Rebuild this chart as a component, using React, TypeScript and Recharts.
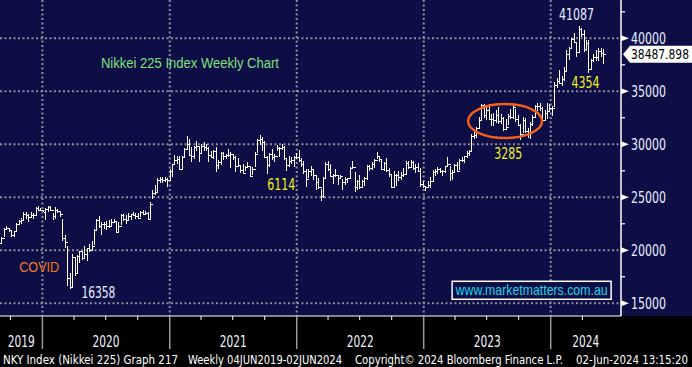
import React from "react";
import { ComposedChart, Bar, XAxis, YAxis, CartesianGrid, ReferenceDot } from "recharts";

// weekly bars, Friday week-ending, first bar = 30 Aug 2019
const firstWeek = "2019-08-30";
const firstOpen = 20480;

// [high, low, close] per week
const weeks2019 = [
  [20760, 20170, 20704], [21250, 20600, 21199], [22020, 21300, 21988], [22250, 21960, 22079], [22100, 21800, 21879],
  [21900, 21280, 21410], [21810, 21300, 21798], [22520, 21800, 22492], [22830, 22480, 22799], [22980, 22570, 22851],
  [23590, 22880, 23391], [23520, 23000, 23303], [23420, 22730, 23113], [23600, 23200, 23294], [23460, 23020, 23354],
  [24080, 23310, 24023], [24090, 23740, 23817], [23940, 23760, 23837],
];
const weeks2020 = [
  [23800, 23620, 23657], [23900, 22950, 23850], [24120, 23700, 24041], [24120, 23740, 23827], [23500, 22890, 23205],
  [23990, 22970, 23828], [23880, 23580, 23688], [23660, 23230, 23387], [22880, 20920, 21143], [21400, 20280, 20750],
  [20350, 16690, 17431], [17800, 16358, 16553], [19560, 16600, 19389], [19300, 17650, 17820], [19550, 17900, 19498],
  [19930, 18860, 19897], [19920, 19100, 19262], [20370, 19300, 19619], [20180, 19050, 20179], [20500, 19900, 20037],
  [20800, 20040, 20388], [21960, 20580, 21878], [22920, 21900, 22863], [23180, 22140, 22305], [22600, 21530, 22478],
  [22630, 22080, 22512], [22690, 21930, 22306], [22790, 22180, 22291], [22890, 22250, 22696], [22900, 22640, 22751],
  [22760, 21700, 21710], [22600, 21760, 22329], [23340, 22410, 23289], [23340, 22810, 22920], [23290, 22560, 22882],
  [23480, 22900, 23205], [23420, 22890, 23406], [23560, 23270, 23360], [23430, 23040, 23204], [23450, 23000, 23029],
  [23640, 23200, 23619], [23730, 23370, 23410], [23640, 23390, 23516], [23590, 22950, 22977], [24530, 23020, 24325],
  [25660, 24840, 25385], [26100, 25270, 25527], [26770, 25530, 26644], [26900, 26400, 26751], [26890, 26440, 26652],
  [26840, 26530, 26763], [26780, 26060, 26656], [27600, 26690, 27444],
];
const weeks2021 = [
  [28140, 27000, 28139], [28980, 28140, 28519], [28820, 28220, 28631], [28860, 27630, 27663], [28840, 27580, 28779],
  [29600, 28800, 29520], [30714, 29630, 30018], [30470, 28930, 28966], [29660, 28370, 28864], [29770, 28700, 29717],
  [30220, 29400, 29792], [29790, 28380, 29176], [29950, 29200, 29854], [30210, 29370, 29768], [29980, 29450, 29683],
  [29690, 28420, 29020], [29310, 28740, 28812], [29420, 28680, 29357], [29690, 27390, 28084], [28450, 27700, 28317],
  [29220, 28130, 29149], [29220, 28560, 28941], [29080, 28650, 28948], [29480, 28830, 28964], [29180, 27800, 29066],
  [29050, 28600, 28783], [28820, 27420, 27940], [28640, 27950, 28003], [27980, 27330, 27548], [28050, 27270, 27284],
  [27880, 27530, 27820], [28280, 27820, 27977], [27800, 26950, 27013], [27770, 27170, 27641], [29180, 27900, 29128],
  [30460, 29200, 30382], [30795, 30000, 30500], [30640, 29450, 30249], [30240, 28750, 28771], [28880, 27290, 28049],
  [29140, 27870, 29069], [29490, 28570, 28805], [29000, 28350, 28893], [29880, 29450, 29612], [29680, 28820, 29610],
  [29960, 29500, 29746], [29810, 28600, 28752], [28530, 27510, 28030], [28860, 27950, 28438], [28800, 28220, 28546],
  [28870, 27890, 28782], [29120, 28660, 28792],
];
const weeks2022 = [
  [29390, 28420, 28479], [28630, 27890, 28124], [28350, 27200, 27523], [27650, 26040, 26717], [27600, 26900, 27440],
  [27880, 27060, 27697], [27500, 26720, 27122], [27060, 25780, 26477], [26730, 25800, 25985], [25690, 24681, 25163],
  [26830, 25000, 26827], [28250, 26840, 28150], [28340, 27540, 27666], [28060, 26960, 26986], [27170, 26300, 27093],
  [27580, 26950, 27105], [27000, 26250, 26848], [27090, 26750, 27004], [26700, 25690, 26428], [26900, 26160, 26740],
  [26800, 26400, 26782], [27830, 26900, 27762], [28390, 27750, 27824], [27300, 25520, 25963], [26560, 25760, 26491],
  [27060, 25830, 25935], [26540, 25910, 26517], [26880, 26140, 26788], [28000, 26720, 27915], [27970, 27500, 27802],
  [28240, 27590, 28176], [28560, 27800, 28547], [29220, 28700, 28930], [28850, 28330, 28641], [28500, 27620, 27650],
  [28300, 27490, 28215], [28620, 27480, 27567], [27690, 26960, 27154], [27030, 25880, 25937], [27400, 26000, 27116],
  [27150, 26140, 27091], [27480, 26580, 26891], [27380, 26720, 27105], [27740, 26980, 27199], [28330, 27160, 28264],
  [28350, 27710, 27900], [28500, 27840, 28283], [28400, 27660, 27778], [28060, 27380, 27901], [28160, 27450, 27527],
  [27670, 26000, 26235], [26520, 25950, 26095],
];
const weeks2023 = [
  [26030, 25660, 25974], [26510, 25900, 26120], [26830, 25950, 26554], [27520, 26630, 27383], [27600, 27080, 27509],
  [27770, 27240, 27671], [27700, 27300, 27513], [27520, 27070, 27453], [27930, 27300, 27927], [28740, 27870, 28144],
  [27870, 26630, 27334], [27520, 26700, 27385], [28100, 27380, 28041], [28290, 27430, 27518], [28530, 27600, 28493],
  [28780, 28410, 28564], [28880, 28240, 28856], [29280, 28800, 29157], [29430, 28920, 29388], [30920, 29400, 30808],
  [31350, 30560, 30916], [31560, 30600, 31524], [32560, 31600, 32265], [33770, 32300, 33706], [33770, 32570, 32781],
  [33530, 32300, 33189], [33760, 32330, 32388], [32780, 31790, 32391], [32900, 31780, 32304], [33170, 32050, 32759],
  [33490, 31930, 32193], [32840, 31940, 32473], [32560, 31270, 31450], [32360, 31470, 31624], [32850, 31890, 32710],
  [33320, 32390, 32606], [33630, 32460, 33533], [33270, 32150, 32402], [32710, 31740, 31857], [31900, 30490, 30995],
  [32530, 31150, 32315], [32450, 31120, 31259], [31480, 30600, 30991], [32050, 30540, 31950], [32700, 31780, 32568],
  [33630, 32650, 33585], [33850, 33180, 33625], [33810, 33180, 33432], [33450, 32210, 32307], [33170, 32380, 32970],
  [33820, 32420, 33169], [33760, 33170, 33464],
];
const weeks2024 = [
  [33570, 32690, 33377], [35840, 33580, 35577], [36240, 35320, 35963], [36980, 35750, 35751], [36440, 35570, 36158],
  [37290, 36030, 36897], [38870, 37000, 38487], [39160, 38000, 39098], [39990, 39010, 39910], [40472, 39560, 39688],
  [39600, 38270, 38707], [41087, 38700, 40888], [40970, 40170, 40369], [40700, 38770, 38992], [39780, 38880, 39523],
  [39800, 36730, 37068], [38000, 37080, 37934], [38470, 37850, 38236], [38860, 37940, 38229], [39000, 37940, 38787],
  [39070, 38250, 38646], [38940, 37620, 38488],
];
const lastPrice = "38487.898";

const quarterStarts = [
  "2019-10-01", "2020-01-01", "2020-04-01", "2020-07-01", "2020-10-01", "2021-01-01", "2021-04-01", "2021-07-01",
  "2021-10-01", "2022-01-01", "2022-04-01", "2022-07-01", "2022-10-01", "2023-01-01", "2023-04-01", "2023-07-01",
  "2023-10-01", "2024-01-01", "2024-04-01",
];
const yearLabels = ["2019", "2020", "2021", "2022", "2023", "2024"];
const majorTicks = [15000, 20000, 25000, 30000, 35000, 40000];
const minorTicks = [17500, 22500, 27500, 32500, 37500, 42500];

const NAVY = "#0e0e46";
const GRID = "#8e8e9e";
const NUM_FONT = "'Liberation Sans Narrow', 'DejaVu Sans Condensed', 'Liberation Sans', Arial, sans-serif";
const X_DOMAIN: [number, number] = [0.3, 255.3];
const Y_DOMAIN: [number, number] = [13800, 43613];

const weekPos = (d: string) => (Date.parse(d) - Date.parse(firstWeek)) / (7 * 864e5);

const allWeeks = [...weeks2019, ...weeks2020, ...weeks2021, ...weeks2022, ...weeks2023, ...weeks2024];
const rows = allWeeks.map((w, i) => ({
  pos: i,
  high: w[0],
  low: w[1],
  close: w[2],
  open: i === 0 ? firstOpen : allWeeks[i - 1][2],
  range: [w[1], w[0]],
}));

const quarterPos = quarterStarts.map(weekPos);
const yearPos = quarterStarts.filter((d) => d.endsWith("-01-01")).map(weekPos);
const bounds = [X_DOMAIN[0], ...yearPos, X_DOMAIN[1]];
const labelPos = yearLabels.map((_, i) => (bounds[i] + bounds[i + 1]) / 2);
const key = (v: number) => v.toFixed(3);
const kind = new Map<string, { type: string; text?: string }>();
quarterPos.forEach((p, i) => kind.set(key(p), { type: quarterStarts[i].endsWith("-01-01") ? "year" : "quarter" }));
labelPos.forEach((p, i) => kind.set(key(p), { type: "label", text: yearLabels[i] }));
const xTicks = [...quarterPos, ...labelPos];

function OhlcBar(props: any) {
  const { x, y, width, height } = props;
  const p = props.payload || props;
  if (x == null || y == null || p.high == null) return null;
  const cx = Math.round(x + width / 2) + 0.5;
  const top = Math.min(y, y + height);
  const h = Math.abs(height);
  const toY = (v: number) => top + ((p.high - v) / (p.high - p.low || 1)) * h;
  const yo = Math.round(toY(p.open)) + 0.5;
  const yc = Math.round(toY(p.close)) + 0.5;
  return (
    <g stroke="#ffffff" strokeWidth={1} shapeRendering="crispEdges">
      <line x1={cx} x2={cx} y1={Math.floor(top)} y2={Math.ceil(top + h)} />
      <line x1={cx - 2} x2={cx} y1={yo} y2={yo} />
      <line x1={cx} x2={cx + 2} y1={yc} y2={yc} />
    </g>
  );
}

function XTick(props: any) {
  const { x, y, payload } = props;
  const k = kind.get(key(payload.value));
  if (!k) return null;
  if (k.type === "quarter") return <line x1={x} x2={x} y1={y} y2={y + 4} stroke="#ffffff" strokeWidth={1} />;
  if (k.type === "year") return <line x1={x} x2={x} y1={y} y2={y + 33} stroke="#9a9a9a" strokeWidth={1.5} />;
  return (
    <text x={x} y={y + 31} textAnchor="middle" fill="#f2f4ff" fontSize={15} fontFamily={NUM_FONT}
      textLength={27} lengthAdjust="spacingAndGlyphs">
      {k.text}
    </text>
  );
}

function YTick(props: any) {
  const { x, y, payload } = props;
  const v = payload.value;
  if (!majorTicks.includes(v)) return <line x1={x} x2={x + 4} y1={y} y2={y} stroke="#ffffff" strokeWidth={1.2} />;
  return (
    <g>
      <polygon points={`${x},${y - 3} ${x + 8},${y} ${x},${y + 3}`} fill="#ffffff" />
      <text x={x + 10} y={y + 5.5} fill="#e8eeff" fontSize={15} fontFamily={NUM_FONT}
        textLength={35} lengthAdjust="spacingAndGlyphs">
        {v}
      </text>
    </g>
  );
}

const label = (text: string, color: string, len: number, size = 15, font = NUM_FONT) => (p: any) => (
  <text x={p.cx} y={p.cy + size * 0.36} textAnchor="middle" fill={color} fontSize={size} fontFamily={font}
    textLength={len} lengthAdjust="spacingAndGlyphs">
    {text}
  </text>
);

const ellipseShape = (p: any) => (
  <ellipse cx={p.cx} cy={p.cy} rx={37} ry={17} fill="none" stroke="#f0601a" strokeWidth={2.5} />
);

const siteShape = (p: any) => (
  <g>
    <rect x={p.cx - 79.5} y={p.cy - 9} width={159} height={18} fill={NAVY} stroke="#ffffff" strokeWidth={1.5} />
    <text x={p.cx} y={p.cy + 5} textAnchor="middle" fill="#18d8ea" fontSize={15}
      fontFamily="'Liberation Sans', Arial, sans-serif" textLength={152} lengthAdjust="spacingAndGlyphs">
      www.marketmatters.com.au
    </text>
  </g>
);

const priceShape = (p: any) => (
  <g>
    <polygon points={`${p.cx + 2},${p.cy} ${p.cx + 9},${p.cy - 8.5} 692,${p.cy - 8.5} 692,${p.cy + 8.5} ${p.cx + 9},${p.cy + 8.5}`}
      fill="#ffffff" />
    <text x={p.cx + 10} y={p.cy + 5} fill="#000000" fontSize={14.5} fontFamily={NUM_FONT}
      textLength={58} lengthAdjust="spacingAndGlyphs">
      {lastPrice}
    </text>
  </g>
);

const hGen = ({ yAxis, offset }: any) =>
  majorTicks.map((v) =>
    yAxis && typeof yAxis.scale === "function"
      ? yAxis.scale(v)
      : offset.top + ((Y_DOMAIN[1] - v) / (Y_DOMAIN[1] - Y_DOMAIN[0])) * offset.height
  );
const vGen = ({ xAxis, offset }: any) =>
  yearPos.map((v) =>
    xAxis && typeof xAxis.scale === "function"
      ? xAxis.scale(v)
      : offset.left + ((v - X_DOMAIN[0]) / (X_DOMAIN[1] - X_DOMAIN[0])) * offset.width
  );

const FOOT_FONT = "'DejaVu Sans Condensed', 'Liberation Sans Narrow', sans-serif";
const footer = [
  { text: "NKY Index (Nikkei 225) Graph 217", x: 3, len: 175 },
  { text: "Weekly 04JUN2019-02JUN2024", x: 188, len: 154 },
  { text: "Copyright\u00a9 2024 Bloomberg Finance L.P.", x: 355, len: 208 },
  { text: "02-Jun-2024 13:15:20", x: 576, len: 112 },
];

export default function App() {
  return (
    <div style={{ position: "absolute", left: 0, top: 0, width: 692, height: 367, background: "#000", overflow: "hidden" }}>
      <div style={{ position: "absolute", left: 0, top: 0, width: 692, height: 316, background: NAVY }} />
      <div style={{ position: "absolute", left: 0, top: 0 }}>
        <ComposedChart width={692} height={367} data={rows} margin={{ top: 0, right: 0, bottom: 0, left: 0 }}>
          <CartesianGrid stroke={GRID} strokeWidth={2} strokeDasharray="2 2.5"
            horizontalCoordinatesGenerator={hGen} verticalCoordinatesGenerator={vGen} />
          <XAxis dataKey="pos" type="number" domain={X_DOMAIN} allowDataOverflow ticks={xTicks} interval={0}
            height={51} tickSize={0} tickMargin={0} tickLine={false} tick={<XTick />}
            axisLine={{ stroke: "#ffffff", strokeWidth: 1 }} />
          <YAxis orientation="right" type="number" domain={Y_DOMAIN} allowDataOverflow
            ticks={[...majorTicks, ...minorTicks]} interval={0} width={71} tickSize={0} tickMargin={0}
            tickLine={false} tick={<YTick />} axisLine={{ stroke: "#ffffff", strokeWidth: 1.5 }} />
          <Bar dataKey="range" shape={<OhlcBar />} isAnimationActive={false} barSize={2} />
          <ReferenceDot x={78.3} y={37717} r={0} ifOverflow="visible"
            shape={label("Nikkei 225 Index Weekly Chart", "#7ee07e", 178, 14, "'Liberation Sans', Arial, sans-serif")} />
          <ReferenceDot x={16.4} y={18500} r={0} ifOverflow="visible"
            shape={label("COVID", "#f07a1e", 40, 15, "'Liberation Sans', Arial, sans-serif")} />
          <ReferenceDot x={40.7} y={15970} r={0} ifOverflow="visible" shape={label("16358", "#e8eeff", 34)} />
          <ReferenceDot x={115.8} y={26160} r={0} ifOverflow="visible" shape={label("6114", "#f0f020", 28)} />
          <ReferenceDot x={209} y={29085} r={0} ifOverflow="visible" shape={label("3285", "#f0f020", 28)} />
          <ReferenceDot x={240.7} y={35780} r={0} ifOverflow="visible" shape={label("4354", "#f0f020", 28)} />
          <ReferenceDot x={237} y={42200} r={0} ifOverflow="visible" shape={label("41087", "#e8eeff", 35)} />
          <ReferenceDot x={207.7} y={32190} r={0} ifOverflow="visible" shape={ellipseShape} />
          <ReferenceDot x={218.6} y={16226} r={0} ifOverflow="visible" shape={siteShape} />
          <ReferenceDot x={X_DOMAIN[1]} y={38487.898} r={0} ifOverflow="visible" shape={priceShape} />
        </ComposedChart>
      </div>
      <svg width={692} height={367} style={{ position: "absolute", left: 0, top: 0, pointerEvents: "none" }}>
        {footer.map((f) => (
          <text key={f.text} x={f.x} y={364} fill="#ffffff" fontSize={12} fontFamily={FOOT_FONT}
            textLength={f.len} lengthAdjust="spacingAndGlyphs">
            {f.text}
          </text>
        ))}
      </svg>
    </div>
  );
}
